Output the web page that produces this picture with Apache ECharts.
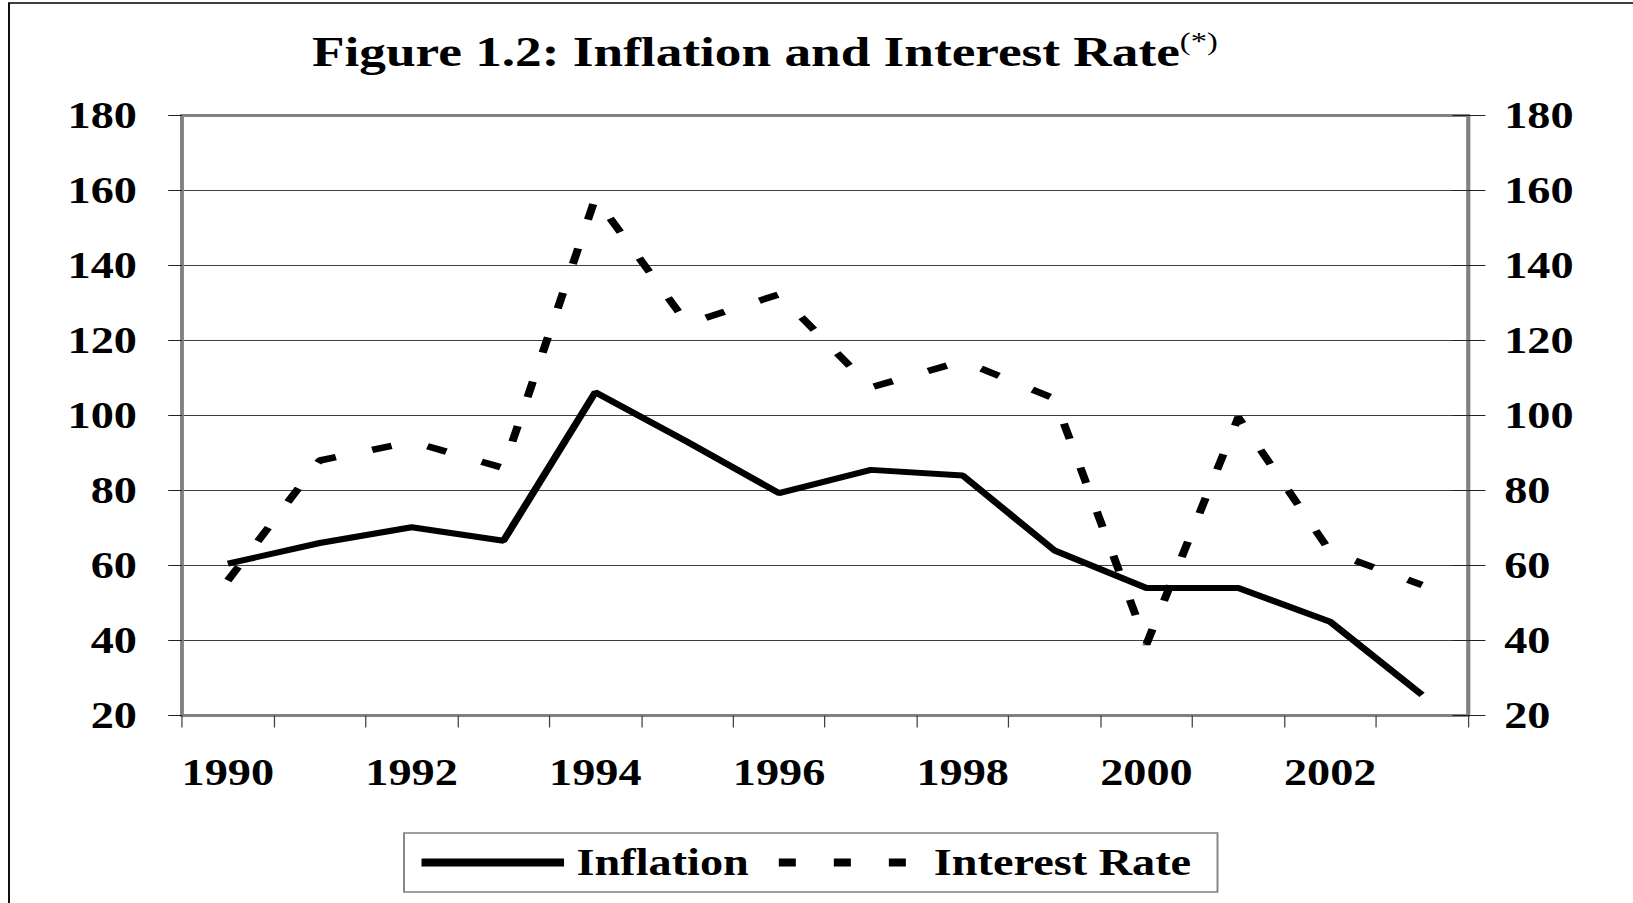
<!DOCTYPE html>
<html>
<head>
<meta charset="utf-8">
<title>Figure 1.2: Inflation and Interest Rate</title>
<script src="https://cdn.jsdelivr.net/npm/echarts@6/dist/echarts.min.js"></script>
<style>
  html, body { margin: 0; padding: 0; background: #fff; overflow: hidden; }
  /* the original picture is stretched sideways, so the chart is drawn narrower and widened */
  #chart {
    width: 1306px;
    height: 903px;
    transform: scaleX(1.2504);
    transform-origin: 0 0;
  }
</style>
</head>
<body>
<div id="chart"></div>
<script>
// data
var years = ['1990', '1991', '1992', '1993', '1994', '1995', '1996',
  '1997', '1998', '1999', '2000', '2001', '2002', '2003']
var inflation = [60.5, 66, 70.2, 66.6, 106.2, 93, 79.3, 85.5, 84, 64, 54, 54, 45, 25.5]
var interestRate = [56, 88, 93, 86, 158, 124.5, 132.3, 107.5, 114.5, 104.5, 39, 99.5, 63.7, 54.8]
var yMin = 20
var yMax = 180
var yStep = 20

var serif = "'Liberation Serif', 'Times New Roman', serif"
var labelFont = { fontFamily: serif, fontWeight: 'bold', fontSize: 37, color: '#000' }

var chart = echarts.init(document.getElementById('chart'), null, { renderer: 'svg' })

chart.setOption({
  animation: false,
  backgroundColor: '#fff',
  title: {
    text: '{t|Figure 1.2: Inflation and Interest Rate}{s|(*)}',
    left: 249.5,
    top: 28.5,
    padding: 0,
    textStyle: {
      rich: {
        t: { fontFamily: serif, fontWeight: 'bold', fontSize: 42.6, lineHeight: 46, color: '#000' },
        s: { fontFamily: serif, fontWeight: 'normal', fontSize: 26, lineHeight: 22, color: '#000', verticalAlign: 'top' }
      }
    }
  },
  // outer frame of the figure
  graphic: [{
    type: 'rect',
    silent: true,
    z: -10,
    shape: { x: 7.2, y: 3, width: 1400, height: 1000 },
    style: { fill: 'none', stroke: '#000', lineWidth: 1.5 }
  }],
  legend: {
    left: 323.1,
    top: 833,
    orient: 'horizontal',
    padding: [11, 21, 11, 10],
    itemGap: 20,
    itemWidth: 114,
    itemHeight: 14,
    borderColor: '#808080',
    borderWidth: 1.5,
    lineStyle: { width: 8 },
    itemStyle: { color: 'rgba(0,0,0,0)', borderColor: 'rgba(0,0,0,0)', borderWidth: 0 },
    textStyle: Object.assign({ padding: [0, 0, 0, 5] }, labelFont),
    data: [
      { name: 'Inflation' },
      { name: 'Interest Rate', lineStyle: { type: [13.6, 30.4], cap: 'butt' } }
    ]
  },
  grid: {
    left: 145.5,
    right: 132,
    top: 115.5,
    bottom: 187.5,
    show: true,
    borderColor: '#808080',
    borderWidth: 2.8,
    backgroundColor: 'transparent'
  },
  xAxis: {
    type: 'category',
    data: years,
    boundaryGap: true,
    axisLine: { show: true, lineStyle: { color: '#808080', width: 2.8 } },
    axisTick: { show: true, interval: 0, length: 12, lineStyle: { color: '#404040', width: 1 } },
    axisLabel: Object.assign({ interval: 1, margin: 38.5 }, labelFont),
    splitLine: { show: false }
  },
  yAxis: [{
    type: 'value',
    position: 'left',
    min: yMin,
    max: yMax,
    interval: yStep,
    axisLine: { show: true, lineStyle: { color: '#808080', width: 2.8 } },
    axisTick: { show: true, length: 11, lineStyle: { color: '#222', width: 1 } },
    axisLabel: Object.assign({ margin: 36 }, labelFont),
    splitLine: {
      show: true,
      showMinLine: false,
      showMaxLine: false,
      lineStyle: { color: '#404040', width: 1 }
    }
  }, {
    type: 'value',
    position: 'right',
    min: yMin,
    max: yMax,
    interval: yStep,
    axisLine: { show: true, lineStyle: { color: '#808080', width: 2.8 } },
    axisTick: { show: true, length: 14, lineStyle: { color: '#222', width: 1 } },
    axisLabel: Object.assign({ margin: 29 }, labelFont),
    splitLine: { show: false }
  }, {
    // inner half of the crossing ticks on the right axis
    type: 'value',
    position: 'right',
    min: yMin,
    max: yMax,
    interval: yStep,
    axisLine: { show: false },
    axisTick: { show: true, inside: true, length: 12.4, lineStyle: { color: '#222', width: 1 } },
    axisLabel: { show: false },
    splitLine: { show: false }
  }],
  series: [{
    name: 'Inflation',
    type: 'line',
    data: inflation,
    yAxisIndex: 0,
    symbol: 'none',
    itemStyle: { color: '#000' },
    lineStyle: { color: '#000', width: 6 }
  }, {
    name: 'Interest Rate',
    type: 'line',
    data: interestRate,
    yAxisIndex: 0,
    symbol: 'none',
    itemStyle: { color: '#000' },
    lineStyle: { color: '#000', width: 6.5, type: [16, 30], cap: 'butt' }
  }]
})
</script>
</body>
</html>
